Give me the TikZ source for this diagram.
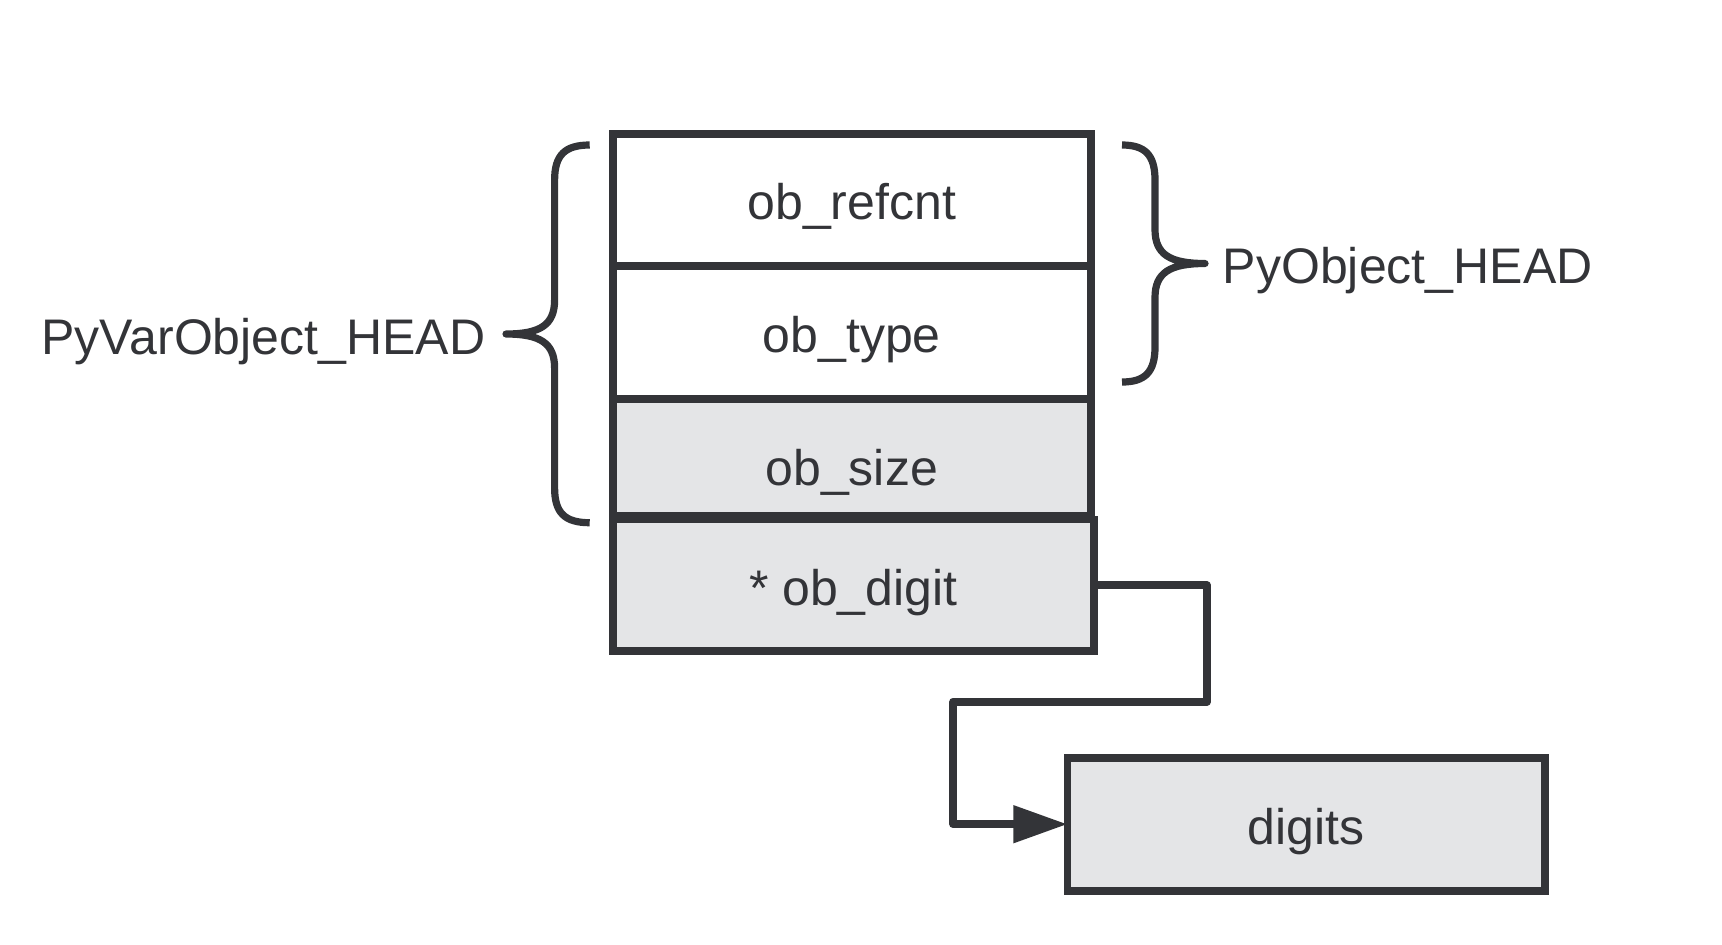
\documentclass[tikz,border=0pt]{standalone}
\usepackage{fontspec}
\setmainfont{Liberation Sans}
\usetikzlibrary{positioning}
\usepgflibrary{arrows.meta}
\definecolor{ink}{HTML}{333438}
\definecolor{cellgray}{HTML}{E4E5E7}

\begin{document}
\begin{tikzpicture}
    [x=0.5pt, y=-0.5pt,
    line width=3.9pt, text=ink,
    font=\fontsize{25pt}{30pt}\selectfont,
    cell/.style={draw=ink, rectangle, outer sep=0pt, inner sep=0pt, minimum width=238.9pt, text height=20pt, text depth=0pt},
    shaded/.style={cell, fill=cellgray},
    brace/.style={draw=ink, line width=3.6pt, line join=round},
    link/.style={draw=ink, line join=round, -{Triangle[length=27pt, width=18pt]}}]
        \useasboundingbox (0,0) rectangle (1722,944);

        \node[cell, minimum height=65.9pt] (refcnt) at (851.7,199.9) {ob\_refcnt};
        \node[cell, minimum height=66.4pt, below=0pt of refcnt] (type) {ob\_type};
        \node[shaded, minimum height=58.8pt, text height=28pt, below=0pt of type] (size) {ob\_size};
        \node[shaded, minimum width=240.5pt, minimum height=65.9pt, below right=1.6pt and 0pt of size.south west] (digit) {* ob\_digit};
        \node[shaded, minimum height=66.4pt, below right=53.3pt and -13.2pt of digit.south east] (digits) {digits};

        \coordinate (lbtip) at (506,334);
        \coordinate (rbtip) at (1205,263.5);
        \coordinate (turnA) at (1207,701.7);
        \coordinate (turnB) at (953.2,701.7);

        \draw[brace] (589.7,145) .. controls (565,145) and (554.6,155) .. (554.6,180) -- (554.6,300)
            .. controls (554.6,325) and (540,334) .. (lbtip) .. controls (540,334) and (554.6,343) .. (554.6,368)
            -- (554.6,488) .. controls (554.6,513) and (565,522.7) .. (589.7,522.7);
        \draw[brace] (1122,145) .. controls (1145,145) and (1155,155) .. (1155,180) -- (1155,229.5)
            .. controls (1155,254.5) and (1170,263.5) .. (rbtip) .. controls (1170,263.5) and (1155,272.5) .. (1155,297.5)
            -- (1155,347) .. controls (1155,372) and (1145,382) .. (1122,382);

        \node[left=8.4pt of lbtip, anchor=base east, yshift=-10pt, inner sep=0pt] (varhead) {PyVarObject\_HEAD};
        \node[right=7pt of rbtip, anchor=base west, yshift=-10pt, inner sep=0pt] (objhead) {PyObject\_HEAD};

        \draw[link] (digit.east) -| (turnA) -- (turnB) |- (digits.west);
\end{tikzpicture}
\end{document}
